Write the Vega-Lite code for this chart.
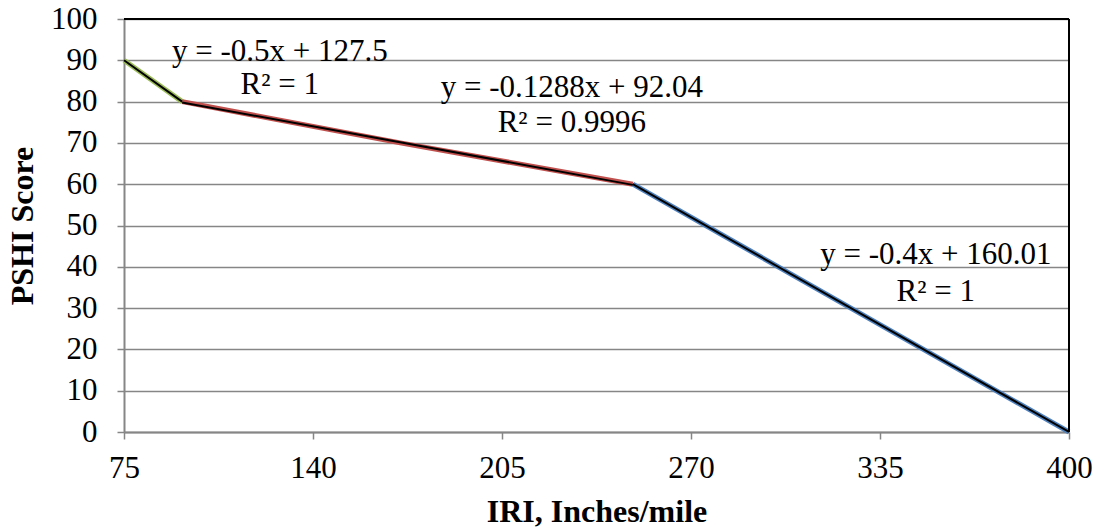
{
  "$schema": "https://vega.github.io/schema/vega-lite/v6.json",
  "width": 945,
  "height": 413,
  "autosize": {"type": "none"},
  "padding": {"left": 124, "top": 19, "right": 32, "bottom": 99},
  "background": "white",
  "config": {
    "view": {"stroke": null},
    "font": "Liberation Serif",
    "axis": {"labelFont": "Liberation Serif", "titleFont": "Liberation Serif", "labelColor": "black", "titleColor": "black"}
  },
  "datasets": {
    "series": [
      {"series": "A", "x": 75, "y": 90},
      {"series": "A", "x": 95, "y": 80},
      {"series": "B", "x": 95, "y": 80},
      {"series": "B", "x": 170, "y": 70},
      {"series": "B", "x": 250, "y": 60},
      {"series": "C", "x": 250, "y": 60},
      {"series": "C", "x": 400, "y": 0}
    ],
    "trend": [
      {"series": "A", "x": 75, "y": 90},
      {"series": "A", "x": 95, "y": 80},
      {"series": "B", "x": 95, "y": 79.8},
      {"series": "B", "x": 250, "y": 59.84},
      {"series": "C", "x": 250, "y": 60.01},
      {"series": "C", "x": 400, "y": 0.01}
    ],
    "labels": [
      {"label": "y = -0.5x + 127.5", "x": 128.6, "y": 92},
      {"label": "R² = 1", "x": 128.6, "y": 84},
      {"label": "y = -0.1288x + 92.04", "x": 229, "y": 83.3},
      {"label": "R² = 0.9996", "x": 229, "y": 74.8},
      {"label": "y = -0.4x + 160.01", "x": 354.2, "y": 42.9},
      {"label": "R² = 1", "x": 354.2, "y": 33.9}
    ]
  },
  "layer": [
    {
      "data": {"name": "series"},
      "mark": {"type": "line", "strokeWidth": 5},
      "encoding": {
        "x": {
          "field": "x", "type": "quantitative",
          "scale": {"domain": [75, 400], "nice": false, "zero": false},
          "axis": {
            "values": [75, 140, 205, 270, 335, 400],
            "title": "IRI, Inches/mile",
            "titleFontSize": 32, "titleFontWeight": "bold", "titlePadding": 13,
            "labelFontSize": 31, "labelPadding": 14, "labelFlush": false,
            "grid": false, "domainColor": "#868686", "domainWidth": 2,
            "tickColor": "#868686", "tickSize": 7, "tickWidth": 1.5
          }
        },
        "y": {
          "field": "y", "type": "quantitative",
          "scale": {"domain": [0, 100], "nice": false},
          "axis": {
            "values": [0, 10, 20, 30, 40, 50, 60, 70, 80, 90, 100],
            "title": "PSHI Score",
            "titleFontSize": 32, "titleFontWeight": "bold", "titlePadding": 11,
            "labelFontSize": 31, "labelPadding": 20,
            "grid": true, "gridColor": "#868686", "gridWidth": 1.5,
            "domainColor": "#868686", "domainWidth": 2,
            "tickColor": "#868686", "tickSize": 7, "tickWidth": 1.5
          }
        },
        "color": {
          "field": "series", "type": "nominal",
          "scale": {"domain": ["A", "B", "C"], "range": ["#9BBB59", "#C0504D", "#4F81BD"]},
          "legend": null
        }
      }
    },
    {
      "data": {"name": "trend"},
      "mark": {"type": "line", "strokeWidth": 2, "color": "black"},
      "encoding": {
        "x": {"field": "x", "type": "quantitative"},
        "y": {"field": "y", "type": "quantitative"},
        "detail": {"field": "series", "type": "nominal"}
      }
    },
    {
      "data": {"values": [{"v": 100}]},
      "mark": {"type": "rule", "color": "black", "strokeWidth": 2},
      "encoding": {"y": {"field": "v", "type": "quantitative"}}
    },
    {
      "data": {"values": [{"v": 400}]},
      "mark": {"type": "rule", "color": "black", "strokeWidth": 2},
      "encoding": {"x": {"field": "v", "type": "quantitative"}}
    },
    {
      "data": {"name": "labels"},
      "mark": {"type": "text", "fontSize": 31, "font": "Liberation Serif", "color": "black", "align": "center", "baseline": "middle"},
      "encoding": {
        "x": {"field": "x", "type": "quantitative"},
        "y": {"field": "y", "type": "quantitative"},
        "text": {"field": "label", "type": "nominal"}
      }
    }
  ]
}
